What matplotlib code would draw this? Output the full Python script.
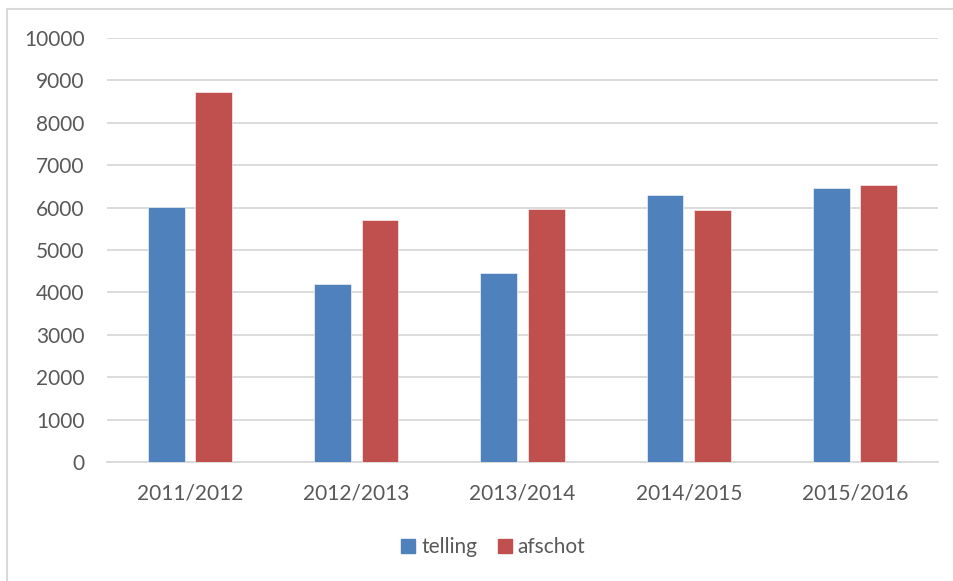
import matplotlib
matplotlib.use("Agg")
import numpy as np
import matplotlib.pyplot as plt
from matplotlib.patches import Patch, Rectangle

# data
seasons = ["2011/2012", "2012/2013", "2013/2014", "2014/2015", "2015/2016"]
telling = [6015, 4200, 4465, 6305, 6450]
afschot = [8710, 5700, 5970, 5940, 6535]
y_ticks = list(range(0, 10001, 1000))

plt.rcParams["font.family"] = ["Lato", "DejaVu Sans"]

W, H = 954, 581
fig = plt.figure(figsize=(W / 100, H / 100), dpi=100)

# chart area border (left + top only visible)
fig.patches.append(Rectangle((7.5 / W, -0.1), 1.2, 1.1 - 8.5 / H,
                             transform=fig.transFigure, fill=False,
                             edgecolor="#D9D9D9", linewidth=1.5))

ax = fig.add_axes([107 / W, (H - 462.3) / H, 831 / W, 424.6 / H])

x = np.arange(len(seasons))
bw = 0.2226
off = 0.1426
blue = "#4F81BD"
red = "#C0504D"

ax.bar(x - off, telling, bw, color=blue, edgecolor="white", linewidth=0.4, zorder=3)
ax.bar(x + off, afschot, bw, color=red, edgecolor="white", linewidth=0.4, zorder=3)

ax.set_xlim(-0.5, len(seasons) - 0.5)
ax.set_ylim(0, 10000)
ax.set_yticks(y_ticks)
ax.set_xticks(x)
ax.set_xticklabels(seasons)

ax.grid(axis="y", color="#D9D9D9", linewidth=1.3, zorder=0)
for s in ["top", "right", "left"]:
    ax.spines[s].set_visible(False)
ax.spines["bottom"].set_color("#D9D9D9")
ax.spines["bottom"].set_linewidth(1.3)

ax.tick_params(axis="y", length=0, pad=16, labelsize=15, labelcolor="#595959")
ax.tick_params(axis="x", length=0, pad=15, labelsize=15, labelcolor="#595959")

handles = [Patch(color=blue, label="telling"), Patch(color=red, label="afschot")]
fig.legend(handles=handles, loc="center", bbox_to_anchor=(493.5 / W, 1 - 547 / H),
           ncol=2, frameon=False, fontsize=15, labelcolor="#595959",
           handlelength=0.65, handleheight=0.65, handletextpad=0.3,
           columnspacing=1.0)

fig.savefig("out.png", dpi=100)
